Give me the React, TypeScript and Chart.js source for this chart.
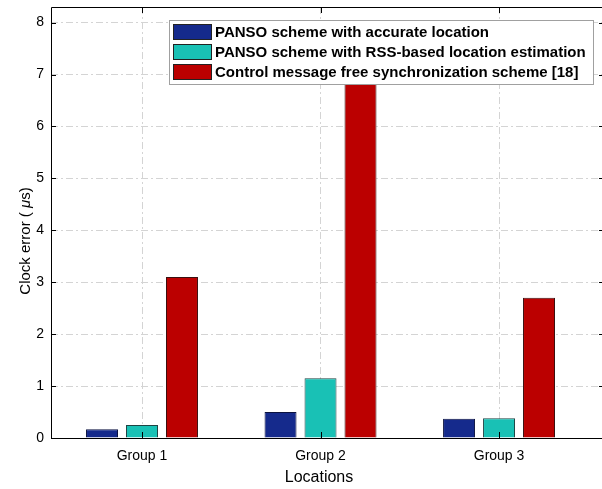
import React, { useEffect, useRef } from "react";
import { Chart, registerables } from "chart.js";

Chart.register(...registerables);

const groups = ["Group 1", "Group 2", "Group 3"];
const seriesNames = [
  "PANSO scheme with accurate location",
  "PANSO scheme with RSS-based location estimation",
  "Control message free synchronization scheme [18]",
];
const accurateLoc = [0.17, 0.5, 0.37];
const rssLoc = [0.25, 1.15, 0.38];
const controlFree = [3.1, 7.3, 2.7];
const yTicks = [0, 1, 2, 3, 4, 5, 6, 7, 8];

const fills = ["#152a8c", "#19c1b5", "#bb0000"];
const borders = ["#0b1240", "#1f4444", "#3a1010"];

const FONT = "'Liberation Sans', Arial, Helvetica, sans-serif";

const overlay = {
  id: "matlabOverlay",
  afterDraw(chart: any) {
    const { ctx, chartArea } = chart;
    const { left, right, top, bottom } = chartArea;
    const xs = chart.scales.x;
    const ys = chart.scales.y;
    ctx.save();
    // box
    ctx.strokeStyle = "#000";
    ctx.lineWidth = 1;
    ctx.setLineDash([]);
    ctx.beginPath();
    ctx.rect(Math.round(left) + 0.5, Math.round(top) + 0.5, Math.round(right - left), Math.round(bottom - top));
    ctx.stroke();
    // inside ticks
    ctx.beginPath();
    const tl = 5;
    yTicks.forEach((v) => {
      const y = Math.round(ys.getPixelForValue(v)) + 0.5;
      ctx.moveTo(left, y);
      ctx.lineTo(left + tl, y);
      ctx.moveTo(right, y);
      ctx.lineTo(right - tl, y);
    });
    groups.forEach((_, i) => {
      const x = Math.round(xs.getPixelForValue(i + 1)) + 0.5;
      ctx.moveTo(x, bottom);
      ctx.lineTo(x, bottom - tl - 1);
      ctx.moveTo(x, top);
      ctx.lineTo(x, top + tl + 1);
    });
    ctx.stroke();

    // legend
    const lx = 169, ly = 20, lw = 424, lh = 64;
    ctx.fillStyle = "#fff";
    ctx.fillRect(lx, ly, lw, lh);
    ctx.strokeStyle = "#a0a0a0";
    ctx.strokeRect(lx + 0.5, ly + 0.5, lw, lh);
    ctx.font = `bold 15px ${FONT}`;
    ctx.textBaseline = "middle";
    ctx.textAlign = "left";
    seriesNames.forEach((name, i) => {
      const sy = 24 + i * 20;
      ctx.fillStyle = fills[i];
      ctx.fillRect(173, sy, 39, 16);
      ctx.strokeStyle = "#222";
      ctx.strokeRect(173.5, sy + 0.5, 38, 15);
      ctx.fillStyle = "#000";
      ctx.fillText(name, 215, sy + 8.5);
    });

    // x title
    ctx.font = `16px ${FONT}`;
    ctx.textAlign = "center";
    ctx.fillStyle = "#000";
    ctx.fillText("Locations", 319, 478);

    // y title with italic mu
    ctx.translate(26, 241);
    ctx.rotate(-Math.PI / 2);
    const p1 = "Clock error ( ";
    const p2 = "\u03bc";
    const p3 = "s)";
    ctx.font = `15px ${FONT}`;
    const w1 = ctx.measureText(p1).width;
    const w3 = ctx.measureText(p3).width;
    ctx.font = `italic 15px ${FONT}`;
    const w2 = ctx.measureText(p2).width;
    const total = w1 + w2 + w3;
    let x0 = -total / 2;
    ctx.textAlign = "left";
    ctx.font = `15px ${FONT}`;
    ctx.fillText(p1, x0, 0);
    x0 += w1;
    ctx.font = `italic 15px ${FONT}`;
    ctx.fillText(p2, x0, 0);
    x0 += w2;
    ctx.font = `15px ${FONT}`;
    ctx.fillText(p3, x0, 0);
    ctx.restore();
  },
};

export default function App() {
  const ref = useRef<HTMLCanvasElement>(null);
  useEffect(() => {
    if (!ref.current) return;
    const allSeries = [accurateLoc, rssLoc, controlFree];
    const chart = new Chart(ref.current, {
      type: "bar",
      data: {
        datasets: allSeries.map((vals, si) => ({
          label: seriesNames[si],
          data: vals.map((v, i) => ({ x: i + 1, y: v })),
          backgroundColor: fills[si],
          borderColor: borders[si],
          borderWidth: 1,
          categoryPercentage: 0.672,
          barPercentage: 0.8,
        })),
      },
      options: {
        animation: false,
        responsive: false,
        devicePixelRatio: 1,
        layout: { padding: { left: 0, top: 7, right: 16, bottom: 0 } },
        plugins: { legend: { display: false }, tooltip: { enabled: false } },
        scales: {
          x: {
            type: "linear",
            min: 0.4902,
            max: 3.588,
            offset: false,
            afterFit: (s: any) => {
              s.height = 51;
              s.paddingLeft = 0;
              s.paddingRight = 0;
            },
            afterBuildTicks: (s: any) => {
              s.ticks = groups.map((_, i) => ({ value: i + 1 }));
            },
            ticks: {
              includeBounds: false,
              stepSize: 1,
              padding: 10,
              color: "#000",
              font: { family: FONT, size: 14 },
              maxRotation: 0,
              autoSkip: false,
              callback: (v: any) => groups[Number(v) - 1] ?? "",
            },
            grid: { color: "#d4d4d4", lineWidth: 1, drawTicks: false, offset: false },
            border: { display: false, dash: [7, 3, 2, 3] },
          },
          y: {
            min: 0,
            max: 8.3,
            afterFit: (s: any) => {
              s.width = 51;
              s.paddingTop = 0;
              s.paddingBottom = 0;
            },
            afterBuildTicks: (s: any) => {
              s.ticks = yTicks.map((v) => ({ value: v }));
            },
            ticks: {
              padding: 7,
              color: "#000",
              font: { family: FONT, size: 14 },
            },
            grid: { color: "#d4d4d4", lineWidth: 1, drawTicks: false },
            border: { display: false, dash: [7, 3, 2, 3] },
          },
        },
      },
      plugins: [overlay],
    });
    return () => chart.destroy();
  }, []);
  return (
    <div style={{ position: "fixed", left: 0, top: 0, width: 602, height: 489, overflow: "hidden", background: "#fff" }}>
      <canvas ref={ref} width={620} height={489} style={{ display: "block" }} />
    </div>
  );
}
